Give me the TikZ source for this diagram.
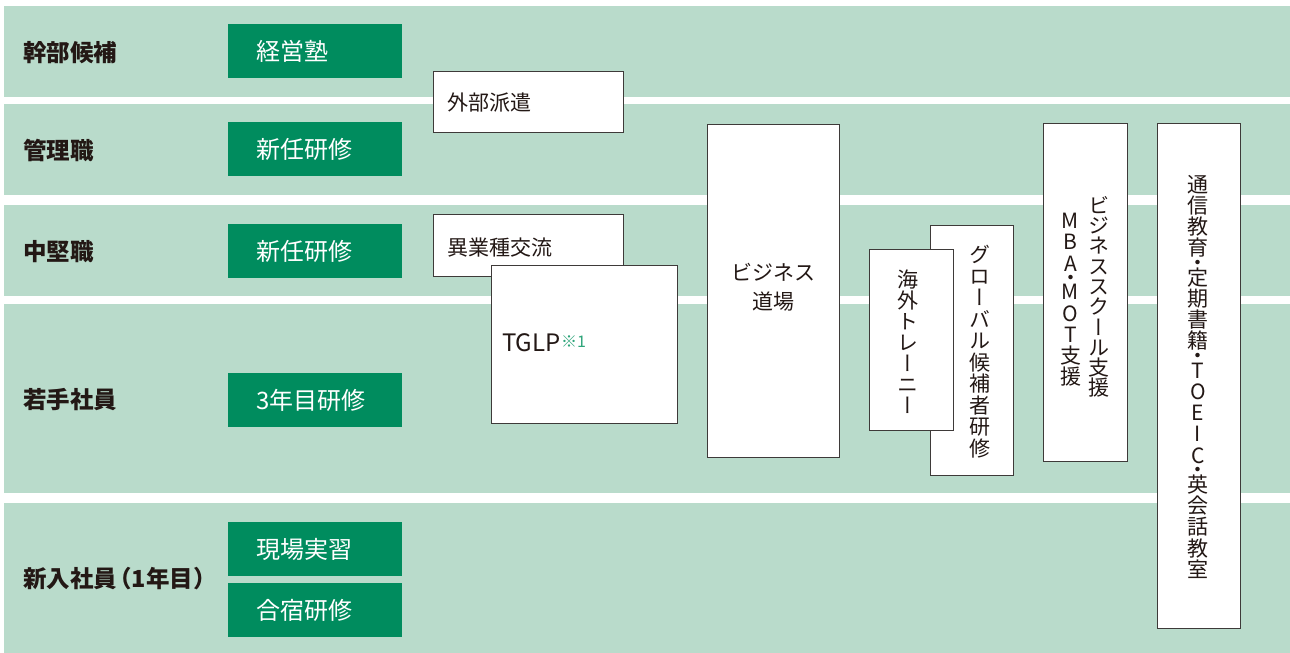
\documentclass[tikz,border=0pt]{standalone}
\usepackage{fontspec}
\setmainfont{Noto Sans CJK JP}
\newfontfamily\vfont[RawFeature=+vert]{Noto Sans CJK JP}
\definecolor{bandc}{HTML}{B9DBCB}
\definecolor{greenc}{HTML}{008C5E}
\definecolor{txtc}{HTML}{231815}
\definecolor{borderc}{HTML}{3E3A39}
\definecolor{notec}{HTML}{2EA57A}
\tikzset{
  band/.style={fill=bandc, draw=none},
  gbox/.style={fill=greenc, draw=none, inner sep=0pt, anchor=north west, minimum width=174pt, minimum height=54pt},
  wbox/.style={fill=white, draw=borderc, line width=1.2pt, inner sep=0pt, anchor=north west},
  lbl/.style={anchor=west, inner sep=0pt, text=txtc, font=\fontsize{23.5}{26}\selectfont\bfseries},
  gtxt/.style={anchor=west, inner sep=0pt, text=white, font=\fontsize{24}{26}\selectfont},
  btxt/.style={anchor=west, inner sep=0pt, text=txtc, font=\fontsize{21}{24}\selectfont},
  vtxt/.style={anchor=north, inner sep=0pt, text=txtc, align=center},
}
\newcommand{\myvsz}[1]{\vfont\fontsize{21}{#1}\selectfont\lineskiplimit=-30pt\lineskip=0pt}
\begin{document}
\begin{tikzpicture}[x=1pt,y=-1pt]
\useasboundingbox (0,0) rectangle (1290,653);
% bands
\fill[band] (4,6) rectangle (1290,96.7);
\fill[band] (4,104) rectangle (1290,194.7);
\fill[band] (4,205) rectangle (1290,295.7);
\fill[band] (4,304) rectangle (1290,492.7);
\fill[band] (4,502.7) rectangle (1290,653);
% row labels
\node[lbl] (l1) at (23,52.5) {幹部候補};
\node[lbl] (l2) at (23,150.5) {管理職};
\node[lbl] (l3) at (23,251.5) {中堅職};
\node[lbl] (l4) at (23,399.5) {若手社員};
\node[lbl] (l5) at (23,578.5) {新入社員\kern-9pt（1年目\kern1pt）};
% green boxes
\node[gbox] (g1) at (228,24) {};
\node[gtxt] (g1t) at (256,51) {経営塾};
\node[gbox] (g2) at (228,122) {};
\node[gtxt] (g2t) at (256,149) {新任研修};
\node[gbox] (g3) at (228,224) {};
\node[gtxt] (g3t) at (256,251) {新任研修};
\node[gbox] (g4) at (228,373) {};
\node[gtxt] (g4t) at (256,400) {3年目研修};
\node[gbox] (g5) at (228,522) {};
\node[gtxt] (g5t) at (256,549) {現場実習};
\node[gbox] (g6) at (228,583) {};
\node[gtxt] (g6t) at (256,610) {合宿研修};
% white boxes
\node[wbox, minimum width=190pt, minimum height=61pt] (gaibu) at (433,71) {};
\node[btxt] (gaibuT) at (447,103) {外部派遣};
\node[wbox, minimum width=190pt, minimum height=62pt] (igyou) at (433,214) {};
\node[btxt] (igyouT) at (447,248) {異業種交流};
\node[wbox, minimum width=186pt, minimum height=158pt] (tglp) at (491,265) {};
\node[anchor=west, inner sep=0pt, text=txtc, font=\fontsize{24}{26}\selectfont] (tglpT) at (502,343) {TGLP\kern0.5pt\raisebox{4.5pt}{\fontsize{16}{16}\selectfont\color{notec}※1}};
\node[wbox, minimum width=132pt, minimum height=333pt] (dojo) at (707,124) {};
\node[inner sep=0pt, text=txtc, align=center, font=\fontsize{21}{28.7}\selectfont] (dojoT) at (773,287) {ビジネス\\道場};
\node[wbox, minimum width=83pt, minimum height=250pt] (global) at (930,225) {};
\node[vtxt, font=\myvsz{21.5}] (globalT) at (980,245) {グ\\ロ\\ー\\バ\\ル\\候\\補\\者\\研\\修};
\node[wbox, minimum width=84pt, minimum height=181pt] (kaigai) at (869,249) {};
\node[vtxt, font=\myvsz{21}] (kaigaiT) at (908,270) {海\\外\\ト\\レ\\ー\\ニ\\ー};
\node[wbox, minimum width=84pt, minimum height=338pt] (mba) at (1043,123) {};
\node[vtxt, font=\myvsz{20.3}] (bizT) at (1099,196) {ビ\\ジ\\ネ\\ス\\ス\\ク\\ー\\ル\\支\\援};
\node[vtxt, font=\myvsz{21.3}] (mbaT) at (1070.5,213) {M\\B\\A\\[-7pt]・\\[-7pt]M\\O\\T\\支\\援};
\node[wbox, minimum width=83pt, minimum height=505pt] (tsushin) at (1157,123) {};
\node[vtxt, font=\myvsz{21.2}] (tsushinT) at (1198,175) {通\\信\\教\\育\\[-6.5pt]・\\[-6.5pt]定\\期\\書\\籍\\[-6.5pt]・\\[-6.5pt]T\\O\\E\\I\\C\\[-6.5pt]・\\[-6.5pt]英\\会\\話\\教\\室};
\end{tikzpicture}
\end{document}
